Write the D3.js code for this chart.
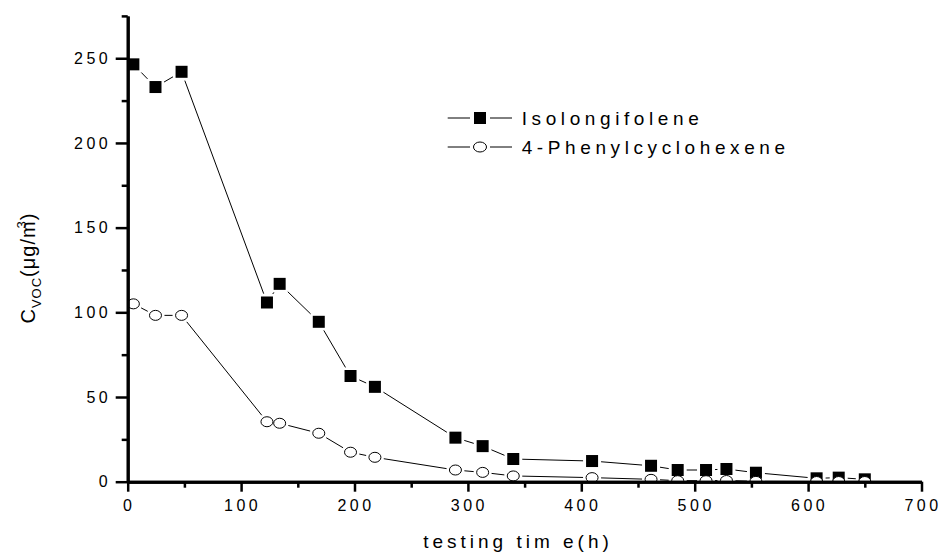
<!DOCTYPE html>
<html>
<head>
<meta charset="utf-8">
<script src="https://cdnjs.cloudflare.com/ajax/libs/d3/7.8.5/d3.min.js"></script>
<style>
  body { margin: 0; background: #fff; }
  svg { display: block; font-family: "Liberation Sans", Arial, sans-serif; }
</style>
</head>
<body>
<div id="chart"></div>
<script>
// data
var hours = [5, 24.5, 47.5, 122.8, 134, 168.5, 196.5, 218, 289, 313, 340, 409.5, 461.5, 485, 510, 528, 554, 607.5, 627, 650];
var isolongifolene = [246.4, 233, 242, 105.8, 116.8, 94.4, 62.4, 56, 26, 21, 13.4, 12.2, 9.4, 6.9, 6.9, 7.5, 5.3, 2.0, 2.4, 1.4];
var phenylcyclohexene = [105, 98.2, 98.2, 35.4, 34.5, 28.6, 17.4, 14.4, 6.9, 5.5, 3.4, 2.4, 1.4, 0.6, 0.6, 0.7, 0.2, 0.1, 0.1, 0.1];
var seriesNames = ["Isolongifolene", "4-Phenylcyclohexene"];
var xTicks = [0, 100, 200, 300, 400, 500, 600, 700];
var xMinor = [50, 150, 250, 350, 450, 550, 650];
var yTicks = [0, 50, 100, 150, 200, 250];
var yMinor = [25, 75, 125, 175, 225, 275];

var width = 941, height = 554;

var svg = d3.select("#chart").append("svg")
  .attr("width", width)
  .attr("height", height);

var x = d3.scaleLinear().domain([0, 700]).range([127.7, 921.5]);
var y = d3.scaleLinear().domain([0, 275]).range([481.7, 15.9]);

// clip so markers sitting on zero lose their lower half, as in the original
svg.append("clipPath").attr("id", "plotclip")
  .append("rect")
  .attr("x", x(0)).attr("y", 0)
  .attr("width", x(700) - x(0) + 20)
  .attr("height", y(0));

var plot = svg.append("g").attr("clip-path", "url(#plotclip)");

// distance from a marker centre to its edge along direction (ux,uy)
function edgeSquare(ux, uy) { return 6 / Math.max(Math.abs(ux), Math.abs(uy)); }
function edgeCircle(ux, uy) { return 1 / Math.sqrt((ux / 6) * (ux / 6) + (uy / 5) * (uy / 5)); }

function drawSeries(values, shape) {
  var pts = hours.map(function(h, i) { return [x(h), y(values[i])]; });
  var edge = shape == "square" ? edgeSquare : edgeCircle;
  var segs = [];
  for (var i = 0; i < pts.length - 1; i++) {
    var dx = pts[i + 1][0] - pts[i][0], dy = pts[i + 1][1] - pts[i][1];
    var L = Math.sqrt(dx * dx + dy * dy);
    var ux = dx / L, uy = dy / L;
    var g = edge(ux, uy) + 3;
    if (L > 2 * g) {
      segs.push([pts[i][0] + ux * g, pts[i][1] + uy * g, pts[i + 1][0] - ux * g, pts[i + 1][1] - uy * g]);
    }
  }
  plot.append("g").selectAll("line")
    .data(segs)
    .enter().append("line")
    .attr("x1", function(d) { return d[0]; })
    .attr("y1", function(d) { return d[1]; })
    .attr("x2", function(d) { return d[2]; })
    .attr("y2", function(d) { return d[3]; })
    .attr("stroke", "#000")
    .attr("stroke-width", 1);

  if (shape == "square") {
    plot.append("g").selectAll("rect")
      .data(pts)
      .enter().append("rect")
      .attr("x", function(d) { return d[0] - 6; })
      .attr("y", function(d) { return d[1] - 6; })
      .attr("width", 12).attr("height", 12)
      .attr("fill", "#000");
  } else {
    plot.append("g").selectAll("ellipse")
      .data(pts)
      .enter().append("ellipse")
      .attr("cx", function(d) { return d[0]; })
      .attr("cy", function(d) { return d[1]; })
      .attr("rx", 6).attr("ry", 5)
      .attr("fill", "#fff")
      .attr("stroke", "#000")
      .attr("stroke-width", 1);
  }
}

drawSeries(isolongifolene, "square");
drawSeries(phenylcyclohexene, "circle");

// axes
var xAxis = d3.axisBottom(x).tickValues(xTicks).tickSize(10).tickSizeOuter(0).tickPadding(8);
var xAxisMinor = d3.axisBottom(x).tickValues(xMinor).tickSize(6).tickSizeOuter(0).tickFormat("");
var yAxis = d3.axisLeft(y).tickValues(yTicks).tickSize(12).tickSizeOuter(0).tickPadding(8);
var yAxisMinor = d3.axisLeft(y).tickValues(yMinor).tickSize(6).tickSizeOuter(0).tickFormat("");

function styleAxis(g) {
  g.selectAll("path.domain").attr("stroke", "#000").attr("stroke-width", 3);
  g.selectAll(".tick line").attr("stroke", "#000").attr("stroke-width", 2.5);
  g.selectAll(".tick text")
    .attr("fill", "#000")
    .style("font-size", "16px")
    .style("letter-spacing", "3.5px")
    .style("font-family", "'Liberation Sans', Arial, sans-serif");
}

svg.append("g").attr("transform", "translate(0," + y(0) + ")").call(xAxisMinor).call(styleAxis);
svg.append("g").attr("transform", "translate(0," + y(0) + ")").call(xAxis).call(styleAxis)
  .selectAll(".tick text").attr("dx", 1);
svg.append("g").attr("transform", "translate(" + x(0) + ",0)").call(yAxisMinor).call(styleAxis);
svg.append("g").attr("transform", "translate(" + x(0) + ",0)").call(yAxis).call(styleAxis)
  .selectAll(".tick text").attr("dx", 3.5);

// axis titles
svg.append("text")
  .attr("x", 518)
  .attr("y", 548)
  .attr("text-anchor", "middle")
  .style("font-size", "19px")
  .style("letter-spacing", "4px")
  .text("testing tim e(h)");

var ytitle = svg.append("text")
  .attr("transform", "translate(35,268) rotate(-90)")
  .attr("text-anchor", "middle")
  .style("font-size", "20px")
  .style("letter-spacing", "1px");
ytitle.append("tspan").text("C");
ytitle.append("tspan").attr("dy", 6).style("font-size", "13px").text("VOC");
ytitle.append("tspan").attr("dy", -6).text("(\u03bcg/m");
ytitle.append("tspan").attr("dx", -8).attr("dy", -9).style("font-size", "13px").text("3");
ytitle.append("tspan").attr("dy", 9).text(")");

// legend
var legend = svg.append("g");
var legendRows = [{ name: seriesNames[0], shape: "square", y: 118 }, { name: seriesNames[1], shape: "circle", y: 147 }];
legendRows.forEach(function(r) {
  legend.append("line").attr("x1", 447.7).attr("x2", 470).attr("y1", r.y).attr("y2", r.y).attr("stroke", "#000");
  legend.append("line").attr("x1", 490).attr("x2", 512).attr("y1", r.y).attr("y2", r.y).attr("stroke", "#000");
  if (r.shape == "square") {
    legend.append("rect").attr("x", 474).attr("y", r.y - 6).attr("width", 12).attr("height", 12).attr("fill", "#000");
  } else {
    legend.append("ellipse").attr("cx", 480).attr("cy", r.y).attr("rx", 6.5).attr("ry", 5)
      .attr("fill", "#fff").attr("stroke", "#000");
  }
  legend.append("text")
    .attr("x", 521.7)
    .attr("y", r.y + 7)
    .style("font-size", "19px")
    .style("letter-spacing", "4.6px")
    .text(r.name);
});
</script>
</body>
</html>
